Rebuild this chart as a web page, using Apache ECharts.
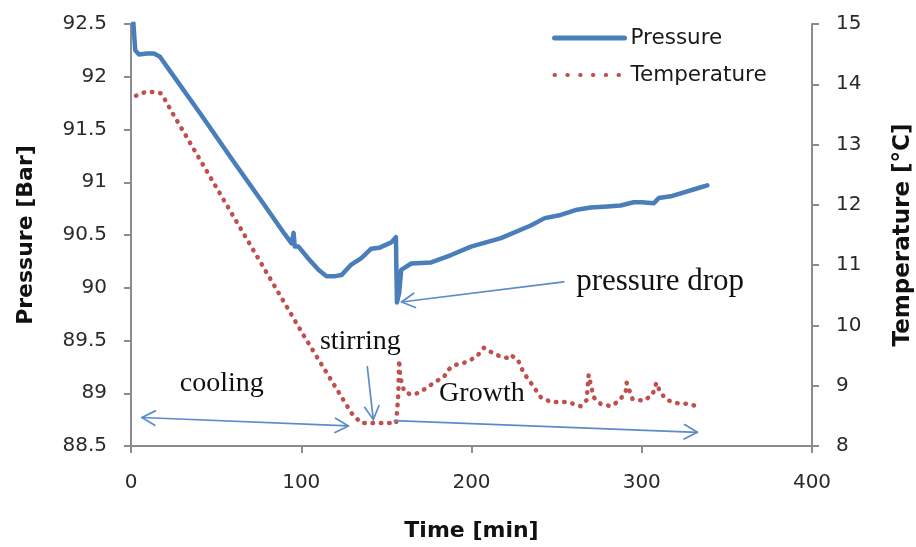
<!DOCTYPE html>
<html>
<head>
<meta charset="utf-8">
<script src="https://cdn.jsdelivr.net/npm/echarts@6/dist/echarts.min.js"></script>
<style>
  html, body { margin: 0; padding: 0; background: #fff; }
  #chart { width: 916px; height: 547px; }
</style>
</head>
<body>
<div id="chart"></div>
<script>
// Axis ranges: [min, max, interval]
const timeAxis = [0, 400, 100];
const pressureAxis = [88.5, 92.5, 0.5];
const temperatureAxis = [8, 15, 1];

// Pressure log (time in min, pressure in bar)
const pressureTime = [1, 2.5, 4.7, 9.4, 13.5, 17, 24, 41.6, 59.2, 76.8, 90.2, 94.3, 95.5, 96.2, 98.4,
  104, 110.1, 114.8, 120, 123.6, 129.4, 135.3, 141.1, 146, 152.9, 155.6, 156.2, 157.5, 158.7,
  164.6, 176.3, 188, 199.7, 217.3, 234.8, 243, 252.4, 262, 270, 280, 287.6, 295.2, 300, 307,
  310, 318, 334.3, 338.5];
const pressureBar = [92.6, 92.25, 92.21, 92.22, 92.22, 92.19, 92.03, 91.63, 91.22, 90.82, 90.51, 90.42, 90.52, 90.39, 90.39,
  90.28, 90.17, 90.11, 90.11, 90.12, 90.22, 90.28, 90.37, 90.38, 90.43, 90.48, 89.86, 89.95, 90.17,
  90.23, 90.24, 90.31, 90.39, 90.47, 90.59, 90.66, 90.69, 90.74, 90.76, 90.77, 90.78, 90.81, 90.81, 90.80,
  90.85, 90.87, 90.95, 90.97];

// Temperature log (time in min, temperature in °C)
const tempTime = [2.9, 8.2, 12.9, 17.6, 20.5, 24, 101.3, 129.4, 132.4, 135.3, 145, 155.8, 157, 157.5, 158.1,
  160.5, 164.6, 168.7, 173.4, 178, 183.9, 186.2, 189.8, 195.6, 199.7, 203.8, 207.3, 211.4, 217.3,
  221.4, 223.1, 227.2, 230.7, 234.8, 240.7, 246.6, 256.5, 264.1, 267.6, 268.2, 268.8, 271.7,
  275.8, 281.7, 285.8, 290.5, 291.1, 294.6, 301, 306.3, 308.6, 311, 315.1, 320.9, 326.8, 333.8];
const tempC = [13.81, 13.87, 13.87, 13.85, 13.72, 13.54, 9.84, 8.55, 8.46, 8.38, 8.38, 8.38, 8.85, 9.43, 9.15,
  8.90, 8.85, 8.88, 8.96, 9.05, 9.15, 9.26, 9.34, 9.38, 9.43, 9.51, 9.63, 9.56, 9.48,
  9.46, 9.51, 9.43, 9.21, 9.05, 8.81, 8.73, 8.73, 8.66, 8.76, 8.96, 9.18, 8.81,
  8.70, 8.66, 8.73, 8.88, 9.05, 8.78, 8.75, 8.85, 9.05, 8.88, 8.76, 8.71, 8.70, 8.65];

// Annotation texts, their anchors (time, pressure) and font sizes
const noteTexts = ['pressure drop', 'stirring', 'cooling', 'Growth'];
const noteAnchors = [[261.5, 90.06], [134.7, 89.49], [53.3, 89.09], [206.1, 89.0]];
const noteSizes = [31, 28, 28, 28];
// Arrows: [from, to, double-headed]
const arrowFrom = [[254.2, 90.055], [138.8, 89.25], [6.4, 88.77], [154.6, 88.74]];
const arrowTo = [[158.9, 89.865], [142.3, 88.75], [127.7, 88.69], [332.7, 88.63]];
const arrowBoth = [false, false, true, false];

const pressureData = pressureTime.map((t, i) => [t, pressureBar[i]]);
const tempData = tempTime.map((t, i) => [t, tempC[i]]);

const tickFont = { fontFamily: 'DejaVu Sans', fontSize: 20, color: '#2a2a2a' };
const titleFont = { fontFamily: 'DejaVu Sans', fontSize: 22, fontWeight: 'bold', color: '#111' };
const axisLineStyle = { color: '#8c8c8c', width: 2 };

const chart = echarts.init(document.getElementById('chart'), null, { renderer: 'canvas' });

const option = {
  animation: false,
  backgroundColor: '#fff',
  grid: { left: 131, right: 104, top: 24, bottom: 101, containLabel: false, outerBoundsMode: 'none' },
  legend: {
    orient: 'vertical',
    left: 552,
    top: 27,
    padding: 0,
    itemWidth: 70,
    itemHeight: 20,
    itemGap: 15,
    textStyle: { fontFamily: 'DejaVu Sans', fontSize: 21.5, color: '#1a1a1a', padding: [0, 0, 0, 1] },
    data: [
      {
        name: 'Pressure',
        itemStyle: { opacity: 0 },
        lineStyle: { color: '#4a7ebb', width: 5, type: 'solid', cap: 'round' }
      },
      {
        name: 'Temperature',
        itemStyle: { opacity: 0 },
        lineStyle: { color: '#c0504d', width: 4, type: [0.5, 12.3], cap: 'round' }
      }
    ]
  },
  xAxis: {
    type: 'value',
    min: timeAxis[0], max: timeAxis[1], interval: timeAxis[2],
    name: 'Time [min]',
    nameLocation: 'middle',
    nameGap: 74,
    nameTextStyle: titleFont,
    axisLine: { show: true, onZero: false, lineStyle: axisLineStyle },
    axisTick: { show: true, length: 7, lineStyle: axisLineStyle },
    axisLabel: Object.assign({ margin: 27 }, tickFont),
    splitLine: { show: false }
  },
  yAxis: [
    {
      type: 'value',
      position: 'left',
      min: pressureAxis[0], max: pressureAxis[1], interval: pressureAxis[2],
      name: 'Pressure [Bar]',
      nameLocation: 'middle',
      nameRotate: 90,
      nameGap: 94,
      nameTextStyle: titleFont,
      axisLine: { show: true, onZero: false, lineStyle: axisLineStyle },
      axisTick: { show: true, length: 7, lineStyle: axisLineStyle },
      axisLabel: Object.assign({ margin: 24 }, tickFont),
      splitLine: { show: false }
    },
    {
      type: 'value',
      position: 'right',
      min: temperatureAxis[0], max: temperatureAxis[1], interval: temperatureAxis[2],
      name: 'Temperature [°C]',
      nameLocation: 'middle',
      nameRotate: 90,
      nameGap: 80,
      nameTextStyle: Object.assign({}, titleFont, { fontSize: 23 }),
      axisLine: { show: true, onZero: false, lineStyle: axisLineStyle },
      axisTick: { show: true, length: 7, lineStyle: axisLineStyle },
      axisLabel: Object.assign({ margin: 24 }, tickFont),
      splitLine: { show: false }
    }
  ],
  series: [
    {
      name: 'Pressure',
      type: 'line',
      yAxisIndex: 0,
      data: pressureData,
      symbol: 'none',
      clip: true,
      lineStyle: { color: '#4a7ebb', width: 4.5, join: 'round', cap: 'round' },
      itemStyle: { color: '#4a7ebb' },
      z: 3
    },
    {
      name: 'Temperature',
      type: 'line',
      yAxisIndex: 1,
      data: tempData,
      symbol: 'none',
      clip: true,
      lineStyle: { color: '#c0504d', width: 4.5, type: [0.5, 7.8], cap: 'round', join: 'round' },
      itemStyle: { color: '#c0504d' },
      z: 2
    }
  ]
};
chart.setOption(option);

// Annotation arrows and labels positioned through the pressure axis
function toPx(p) {
  return chart.convertToPixel({ xAxisIndex: 0, yAxisIndex: 0 }, p);
}
function headPoints(tip, tail) {
  const dx = tail[0] - tip[0], dy = tail[1] - tip[1];
  const L = Math.hypot(dx, dy) || 1;
  const ux = dx / L, uy = dy / L;
  const len = 15, a = 0.5;
  const c = Math.cos(a), s = Math.sin(a);
  const p1 = [tip[0] + len * (ux * c - uy * s), tip[1] + len * (ux * s + uy * c)];
  const p2 = [tip[0] + len * (ux * c + uy * s), tip[1] + len * (-ux * s + uy * c)];
  return [p1, tip, p2];
}
const arrowStyle = { stroke: '#5b8cc8', lineWidth: 1.7, fill: null, lineCap: 'round', lineJoin: 'round' };
const graphics = [];
arrowFrom.forEach((f, i) => {
  const a = toPx(f), b = toPx(arrowTo[i]);
  graphics.push({ type: 'line', shape: { x1: a[0], y1: a[1], x2: b[0], y2: b[1] }, style: arrowStyle, z: 10 });
  graphics.push({ type: 'polyline', shape: { points: headPoints(b, a) }, style: arrowStyle, z: 10 });
  if (arrowBoth[i]) {
    graphics.push({ type: 'polyline', shape: { points: headPoints(a, b) }, style: arrowStyle, z: 10 });
  }
});
noteTexts.forEach((txt, i) => {
  const p = toPx(noteAnchors[i]);
  graphics.push({
    type: 'text',
    x: p[0], y: p[1],
    style: {
      text: txt,
      font: noteSizes[i] + 'px "Liberation Serif"',
      fill: '#111',
      align: i === 0 ? 'left' : 'center',
      verticalAlign: 'middle'
    },
    z: 10
  });
});
chart.setOption({ graphic: graphics });
</script>
</body>
</html>
